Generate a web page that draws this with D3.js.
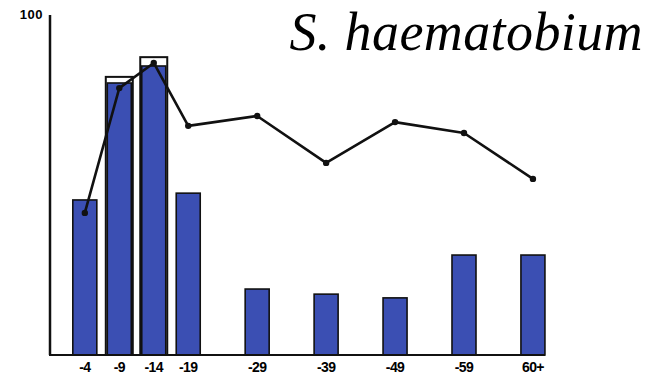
<!DOCTYPE html>
<html>
<head>
<meta charset="utf-8">
<script src="https://cdn.jsdelivr.net/npm/d3@7"></script>
<style>
  body { margin: 0; background: #fff; }
  svg { display: block; }
</style>
</head>
<body>
<div id="chart"></div>
<script>
  // age groups and their slot on the x axis (10-year groups take two slots)
  var categories = ["-4", "-9", "-14", "-19", "-29", "-39", "-49", "-59", "60+"];
  var slots = [0, 1, 2, 3, 5, 7, 9, 11, 13];

  // bar heights (percent) and the line series
  var barValues = [45.6, 80, 85, 47.6, 19.4, 17.9, 16.8, 29.4, 29.4];
  var lineValues = [41.8, 78.5, 85.9, 67.4, 70.3, 56.5, 68.5, 65.3, 51.8];

  // outlined boxes drawn round two of the bars
  var boxCats = ["-9", "-14"];
  var boxValues = [81.8, 87.6];

  var yTicks = [100];

  var W = 646, H = 377;
  var svg = d3.select("#chart").append("svg")
    .attr("width", W)
    .attr("height", H);

  var x = d3.scaleLinear().domain([-1.01, 13.35]).range([50, 545]);
  var y = d3.scaleLinear().domain([0, 100]).range([355, 15]);
  var bw = 24;

  var slotOf = function(c) { return slots[categories.indexOf(c)]; };
  var data = categories.map(function(c, i) {
    return { cat: c, slot: slots[i], bar: barValues[i], line: lineValues[i] };
  });

  // bars
  svg.append("g").selectAll("rect")
    .data(data)
    .enter().append("rect")
    .attr("x", function(d) { return x(d.slot) - bw / 2; })
    .attr("y", function(d) { return y(d.bar); })
    .attr("width", bw)
    .attr("height", function(d) { return y(0) - y(d.bar); })
    .style("fill", "#3b4fb3")
    .style("stroke", "#111")
    .style("stroke-width", 1.6);

  // boxes
  svg.append("g").selectAll("rect")
    .data(boxCats)
    .enter().append("rect")
    .attr("x", function(c) { return x(slotOf(c)) - bw / 2 - 1.5; })
    .attr("y", function(c, i) { return y(boxValues[i]); })
    .attr("width", bw + 3)
    .attr("height", function(c, i) { return y(0) - y(boxValues[i]); })
    .style("fill", "none")
    .style("stroke", "#111")
    .style("stroke-width", 2);

  // axes
  svg.append("line")
    .attr("x1", x(-1.01)).attr("x2", x(-1.01))
    .attr("y1", y(100)).attr("y2", y(0))
    .style("stroke", "#111").style("stroke-width", 2.5);
  svg.append("line")
    .attr("x1", x(-1.01) - 1).attr("x2", x(13.35))
    .attr("y1", y(0)).attr("y2", y(0))
    .style("stroke", "#111").style("stroke-width", 2.2);

  svg.append("g").selectAll("text")
    .data(yTicks)
    .enter().append("text")
    .attr("x", 43)
    .attr("y", function(d) { return y(d) + 4; })
    .attr("text-anchor", "end")
    .style("font", "bold 13px 'Liberation Sans', Arial, sans-serif")
    .style("letter-spacing", "0.5px")
    .text(function(d) { return d; });

  svg.append("g").selectAll("text")
    .data(data)
    .enter().append("text")
    .attr("x", function(d) { return x(d.slot); })
    .attr("y", 372)
    .attr("text-anchor", "middle")
    .style("font", "bold 14px 'Liberation Sans', Arial, sans-serif")
    .style("letter-spacing", "-0.6px")
    .text(function(d) { return d.cat; });

  // line with points
  var line = d3.line()
    .x(function(d) { return x(d.slot); })
    .y(function(d) { return y(d.line); });

  svg.append("path")
    .datum(data)
    .attr("d", line)
    .style("fill", "none")
    .style("stroke", "#111")
    .style("stroke-width", 2.6)
    .style("stroke-linejoin", "round");

  svg.append("g").selectAll("circle")
    .data(data)
    .enter().append("circle")
    .attr("cx", function(d) { return x(d.slot); })
    .attr("cy", function(d) { return y(d.line); })
    .attr("r", 3.2)
    .style("fill", "#111");

  // title
  svg.append("text")
    .attr("x", 643)
    .attr("y", 50)
    .attr("text-anchor", "end")
    .style("font", "italic 54px 'Liberation Serif', 'Times New Roman', serif")
    .style("letter-spacing", "0.4px")
    .text("S. haematobium");
</script>
</body>
</html>
